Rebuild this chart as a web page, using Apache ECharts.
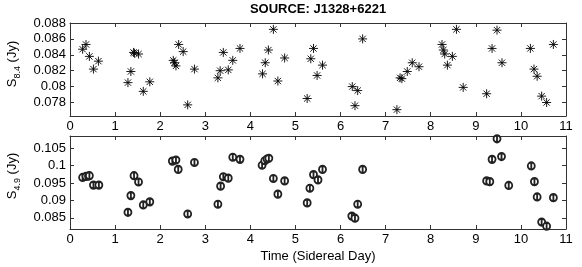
<!DOCTYPE html>
<html>
<head>
<meta charset="utf-8">
<script src="https://cdn.jsdelivr.net/npm/echarts@6/dist/echarts.min.js"></script>
<style>html,body{margin:0;padding:0;background:#fff}#c{width:582px;height:267px}</style>
</head>
<body>
<div id="c"></div>
<script>
// ---- data ----
var title = 'SOURCE: J1328+6221';
var xTitle = 'Time (Sidereal Day)';
var xTicks = [0,1,2,3,4,5,6,7,8,9,10,11];
var yTicksTop = [0.078, 0.08, 0.082, 0.084, 0.086, 0.088];
var yTicksBot = [0.085, 0.09, 0.095, 0.1, 0.105];

var t84 = [0.28,0.355,0.43,0.52,0.63,1.285,1.35,1.41,1.43,1.52,1.625,1.77,2.29,2.32,2.35,2.41,2.51,2.61,2.76,3.28,3.33,3.40,3.51,3.61,3.77,4.27,4.33,4.40,4.51,4.61,4.76,5.26,5.34,5.40,5.48,5.60,6.26,6.32,6.38,6.49,7.25,7.32,7.36,7.48,7.59,7.74,8.25,8.28,8.31,8.37,8.48,8.57,8.72,9.24,9.36,9.47,9.58,10.21,10.29,10.36,10.46,10.57,10.72];
var s84 = [0.0847,0.0853,0.0838,0.0822,0.0832,0.0805,0.0819,0.0843,0.0842,0.0841,0.0794,0.0806,0.0833,0.0830,0.0826,0.0853,0.0844,0.0777,0.0822,0.0811,0.0820,0.0843,0.0821,0.0833,0.0848,0.0816,0.0830,0.0846,0.0872,0.0807,0.0836,0.0785,0.0835,0.0848,0.0814,0.0827,0.0800,0.0776,0.0795,0.0860,0.0771,0.0811,0.0810,0.0819,0.0830,0.0825,0.0853,0.0846,0.0841,0.0827,0.0838,0.0872,0.0799,0.0791,0.0848,0.0871,0.0830,0.0848,0.0822,0.0813,0.0788,0.0780,0.0853];

var t49 = [0.28,0.355,0.41,0.43,0.52,0.64,1.285,1.35,1.42,1.52,1.625,1.77,2.27,2.35,2.40,2.61,2.76,3.28,3.34,3.40,3.51,3.61,3.77,4.26,4.32,4.37,4.41,4.51,4.61,4.76,5.26,5.32,5.40,5.50,5.60,6.25,6.32,6.38,6.49,9.24,9.31,9.36,9.47,9.57,9.73,10.23,10.30,10.36,10.46,10.57,10.72];
var s49 = [0.0966,0.0969,0.0970,0.0971,0.0944,0.0944,0.0866,0.0914,0.0971,0.0953,0.0887,0.0896,0.1013,0.1016,0.0989,0.0861,0.1009,0.0889,0.0941,0.0968,0.0964,0.1024,0.1018,0.1001,0.1014,0.1019,0.1021,0.0963,0.0918,0.0956,0.0893,0.0935,0.0974,0.0959,0.0989,0.0855,0.0849,0.0889,0.0989,0.0956,0.0954,0.1018,0.1077,0.1026,0.0943,0.0999,0.0954,0.0910,0.0838,0.0826,0.0908];

function zip(a, b){ return a.map(function(v,i){ return [v, b[i]]; }); }

var FONT = '"Liberation Sans", Arial, Helvetica, sans-serif';
var AX = '#333';
function fmt(v){ return String(parseFloat(Number(v).toPrecision(6))); }

function xAxes(gi){
  return [
    { gridIndex: gi, type: 'value', min: 0, max: 11, interval: 1, position: 'bottom',
      axisLine: { show: true, onZero: false, lineStyle: { color: AX, width: 1 } },
      axisTick: { show: true, inside: true, length: 4, lineStyle: { color: AX } },
      axisLabel: { show: true, color: '#000', fontSize: 13, fontFamily: FONT, margin: 4 },
      splitLine: { show: false } },
    { gridIndex: gi, type: 'value', min: 0, max: 11, interval: 1, position: 'top',
      axisLine: { show: true, onZero: false, lineStyle: { color: AX, width: 1 } },
      axisTick: { show: true, inside: true, length: 4, lineStyle: { color: AX } },
      axisLabel: { show: false }, splitLine: { show: false } }
  ];
}
function yAxes(gi, mn, mx, ticks){
  return [
    { gridIndex: gi, type: 'value', min: mn, max: mx, position: 'left',
      axisLine: { show: true, onZero: false, lineStyle: { color: AX, width: 1 } },
      axisTick: { show: true, inside: true, length: 4, customValues: ticks, lineStyle: { color: AX } },
      axisLabel: { show: true, customValues: ticks, color: '#000', fontSize: 13, fontFamily: FONT, margin: 4, formatter: fmt },
      splitLine: { show: false } },
    { gridIndex: gi, type: 'value', min: mn, max: mx, position: 'right',
      axisLine: { show: true, onZero: false, lineStyle: { color: AX, width: 1 } },
      axisTick: { show: true, inside: true, length: 4, customValues: ticks, lineStyle: { color: AX } },
      axisLabel: { show: false }, splitLine: { show: false } }
  ];
}

var chart = echarts.init(document.getElementById('c'), null, { renderer: 'canvas' });
chart.setOption({
  animation: false,
  backgroundColor: '#fff',
  grid: [
    { left: 70, top: 23, width: 496, height: 93 },
    { left: 70, top: 136, width: 496, height: 93 }
  ],
  xAxis: xAxes(0).concat(xAxes(1)),
  yAxis: yAxes(0, 0.0763, 0.088, yTicksTop).concat(yAxes(1, 0.0818, 0.1085, yTicksBot)),
  series: [
    { type: 'scatter', xAxisIndex: 0, yAxisIndex: 0, data: zip(t84, s84),
      symbol: 'path://M5 0L5 10M0 5L10 5M1.5 1.5L8.5 8.5M1.5 8.5L8.5 1.5',
      symbolSize: 9,
      itemStyle: { color: '#000', borderColor: '#000', borderWidth: 0.9, opacity: 1 } },
    { type: 'scatter', xAxisIndex: 2, yAxisIndex: 2, data: zip(t49, s49),
      symbol: 'emptypath://M0 6A5 5 0 1 1 10 6A5 5 0 1 1 0 6ZM5 0L5 12',
      symbolSize: [7, 8.4],
      itemStyle: { color: '#222', borderColor: '#222', borderWidth: 0.75, opacity: 1 } }
  ],
  graphic: [
    { type: 'text', x: 318, y: 9, style: { text: title, align: 'center', verticalAlign: 'middle',
      fontSize: 13, fontWeight: 'bold', fontFamily: FONT, fill: '#000' } },
    { type: 'text', x: 318, y: 256, style: { text: xTitle, align: 'center', verticalAlign: 'middle',
      fontSize: 13, fontFamily: FONT, fill: '#000' } },
    { type: 'text', x: 12, y: 64, rotation: Math.PI / 2, style: {
      text: '{a|S}{b|8.4}{a| (Jy)}', align: 'center', verticalAlign: 'middle', fill: '#000',
      rich: { a: { fontSize: 13, lineHeight: 20, fontFamily: FONT, fill: '#000' },
              b: { fontSize: 9, lineHeight: 9, verticalAlign: 'bottom', fontFamily: FONT, fill: '#000' } } } },
    { type: 'text', x: 12, y: 176, rotation: Math.PI / 2, style: {
      text: '{a|S}{b|4.9}{a| (Jy)}', align: 'center', verticalAlign: 'middle', fill: '#000',
      rich: { a: { fontSize: 13, lineHeight: 20, fontFamily: FONT, fill: '#000' },
              b: { fontSize: 9, lineHeight: 9, verticalAlign: 'bottom', fontFamily: FONT, fill: '#000' } } } }
  ]
});
</script>
</body>
</html>
